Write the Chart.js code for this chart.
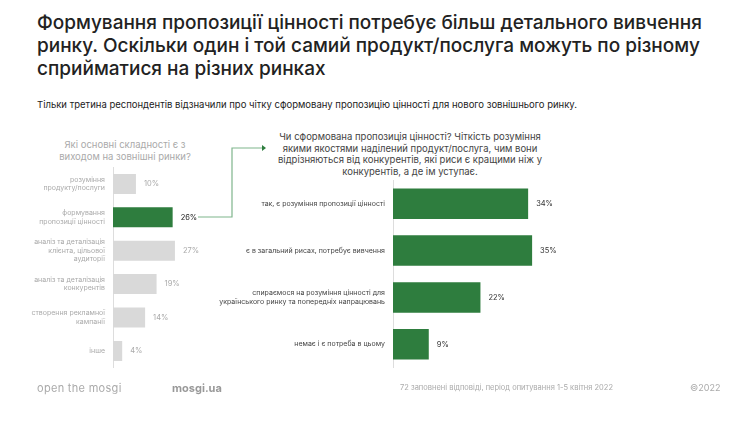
<!DOCTYPE html><html><head><meta charset="utf-8">
<script src="https://cdn.jsdelivr.net/npm/chart.js@4"></script>
<style>
body{margin:0;width:750px;height:421px;background:#fff;font-family:Inter,"Noto Sans",sans-serif;position:relative;overflow:hidden}
.a{position:absolute}
h1{position:absolute;left:37px;top:11px;margin:0;font-size:19px;font-weight:500;line-height:23px;color:#222;width:700px}
</style></head><body>
<h1>Формування пропозиції цінності потребує більш детального вивчення ринку. Оскільки один і той самий продукт/послуга можуть по різному сприйматися на різних ринках</h1>
<div class="a" style="left:37px;top:99px;font-size:9.5px;color:#222">Тільки третина респондентів відзначили про чітку сформовану пропозицію цінності для нового зовнішнього ринку.</div>
<div class="a" style="left:50px;top:139px;width:150px;text-align:center;font-size:9.5px;color:#aaa;line-height:12px">Які основні складності є з виходом на зовнішні ринки?</div>
<div class="a" style="left:272px;top:131px;width:276px;text-align:center;font-size:9.5px;color:#444;line-height:11.5px">Чи сформована пропозиція цінності? Чіткість розуміння якими якостями наділений продукт/послуга, чим вони відрізняються від конкурентів, які риси є кращими ніж у конкурентів, а де ім уступає.</div>
<canvas id="c1" class="a" style="left:0;top:155px" width="240" height="229"></canvas>
<canvas id="c2" class="a" style="left:200px;top:168px" width="360" height="212"></canvas>
<svg class="a" style="left:0;top:0" width="750" height="421"><polyline points="198,217 232,217 232,148 262,148" fill="none" stroke="#7fb58c" stroke-width="1.2"/><polygon points="262,145 266,148 262,151" fill="#2e7d3e"/></svg>
<div class="a" style="left:37px;top:381px;font-size:11px;color:#aaa;letter-spacing:0.3px">open the mosgi</div>
<div class="a" style="left:172px;top:381px;font-size:11px;color:#999;font-weight:700">mosgi.ua</div>
<div class="a" style="left:400px;top:383px;font-size:7.5px;color:#aaa">72 заповнені відповіді, період опитування 1-5 квітня 2022</div>
<div class="a" style="left:690px;top:382px;font-size:9px;color:#aaa">©2022</div>
<script>
const leftCats=[["розуміння","продукту/послуги"],["формування","пропозиції цінності"],["аналіз та деталізація","клієнта, цільової","аудиторії"],["аналіз та деталізація","конкурентів"],["створення рекламної","кампанії"],["інше"]];
const leftVals=[10,26,27,19,14,4];
const rightCats=["так, є розуміння пропозиції цінності","є в загальний рисах, потребує вивчення",["спираємося на розуміння цінності для","українського ринку та попередніх напрацювань"],"немає і є потреба в цьому"];
const rightVals=[34,35,22,9];
const green="#2e7d3e";
function lbl(colorFn){return {id:'lbl',afterDatasetsDraw(ch){const c=ch.ctx;const m=ch.getDatasetMeta(0);c.save();c.font='7.5px Inter';c.textBaseline='middle';m.data.forEach((b,i)=>{c.fillStyle=colorFn(i);c.fillText(ch.data.datasets[0].data[i]+'%',b.x+8,b.y);});c.restore();}};}
function mk(id,cats,vals,colors,max,yw,bp,lc,tc){
new Chart(document.getElementById(id),{type:'bar',data:{labels:cats,datasets:[{data:vals,backgroundColor:colors,borderWidth:0,barPercentage:bp,categoryPercentage:1}]},
options:{indexAxis:'y',responsive:false,animation:false,devicePixelRatio:1,layout:{padding:{right:10,top:0,bottom:0}},
plugins:{legend:{display:false},tooltip:{enabled:false}},
scales:{x:{display:false,min:0,max:max},y:{afterFit(s){s.width=yw},grid:{display:false,drawTicks:false},border:{color:'#ddd'},ticks:{color:tc,font:{size:7,family:'Inter'},padding:8,autoSkip:false}}}},
plugins:[lbl(lc)]});}
mk('c1',leftCats,leftVals,leftVals.map((v,i)=>i==1?green:'#d9d9d9'),51,113,0.6,i=>i==1?'#222':'#aaa','#aaa');
mk('c2',rightCats,rightVals,green,39.5,193,0.65,()=>'#333','#444');
</script></body></html>
